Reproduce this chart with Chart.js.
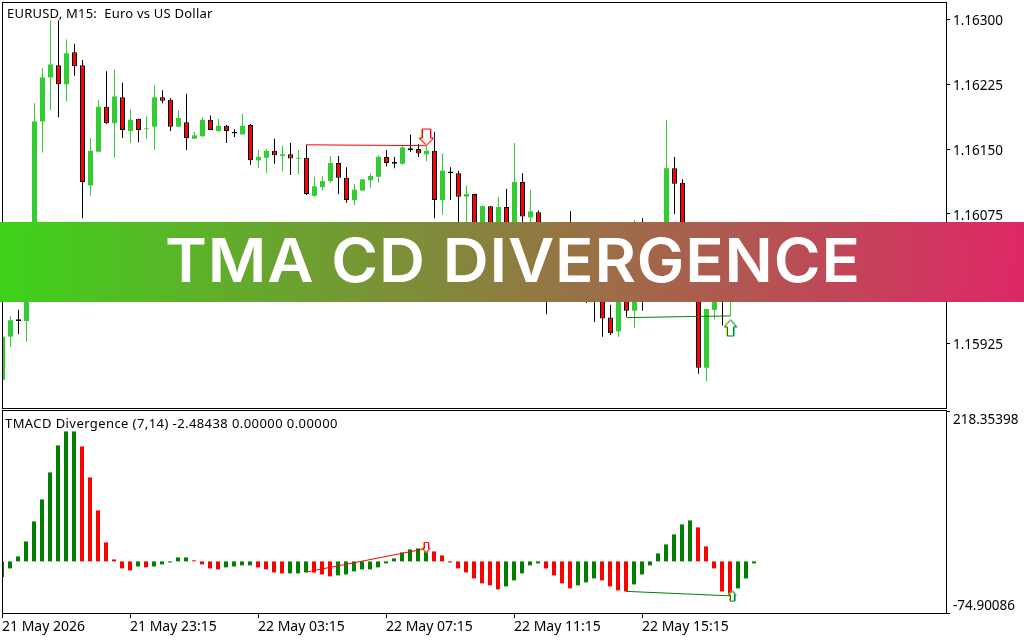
<!DOCTYPE html>
<html lang="en">
<head>
<meta charset="UTF-8">
<title>TMA CD Divergence</title>
<script src="https://cdn.jsdelivr.net/npm/chart.js"></script>
<style>
    html, body { margin: 0; padding: 0; background: #fff; overflow: hidden; }
    body { width: 1024px; height: 640px; position: relative; }
    canvas { position: absolute; left: 0; }
    #priceChart { top: 0; }
    #tmacdChart { top: 410px; }
    .label { position: absolute; font: 13px "Noto Sans", sans-serif; color: #000; white-space: pre; line-height: 16px; }
    #priceTitle { left: 7px; top: 5px; letter-spacing: 0.22px; }
    #tmacdTitle { left: 5px; top: 415px; letter-spacing: 0.42px; }
    #banner {
        position: absolute; left: 0; top: 222px; width: 1024px; height: 80px;
        background: linear-gradient(93deg, #3dd31a 0%, #de2766 100%);
    }
    #banner span {
        position: absolute; left: 164.5px; top: 0;
        font: 600 60px/76px Inter, sans-serif; color: #fff; white-space: pre; letter-spacing: 0.8px;
        transform: scaleX(1.06); transform-origin: left center;
    }
</style>
</head>
<body>
<canvas id="priceChart" width="1024" height="410"></canvas>
<canvas id="tmacdChart" width="1024" height="230"></canvas>
<div class="label" id="priceTitle">EURUSD, M15:  Euro vs US Dollar</div>
<div class="label" id="tmacdTitle">TMACD Divergence (7,14) -2.48438 0.00000 0.00000</div>
<div id="banner"><span>TMA CD DIVERGENCE</span></div>
<script>
// EURUSD M15 candles
const opens = [
    1.15883, 1.15933, 1.15953, 1.15951, 1.15993, 1.16182, 1.16233, 1.16247, 1.16225, 1.16262,
    1.16247, 1.16108, 1.16147, 1.16199, 1.16180, 1.16210, 1.16171, 1.16185, 1.16173, 1.16176,
    1.16210, 1.16207, 1.16176, 1.16181, 1.16162, 1.16165, 1.16184, 1.16171, 1.16177, 1.16170,
    1.16167, 1.16178, 1.16137, 1.16140, 1.16148, 1.16142, 1.16144, 1.16139, 1.16140, 1.16096,
    1.16106, 1.16113, 1.16134, 1.16117, 1.16091, 1.16102, 1.16114, 1.16118, 1.16141, 1.16135,
    1.16133, 1.16151, 1.16150, 1.16144, 1.16148, 1.16091, 1.16124, 1.16122, 1.16095, 1.16098,
    1.16045, 1.16084, 1.16039, 1.16083, 1.16039, 1.16112, 1.16071, 1.16077, 1.16051, 1.16010,
    1.16019, 1.16020, 1.15995, 1.16015, 1.15985, 1.15975, 1.15955, 1.15939, 1.15990, 1.15963,
    1.16010, 1.15995, 1.16020, 1.16050, 1.16128, 1.16111, 1.16022, 1.15995, 1.15897, 1.15964,
    1.15985, 1.15975, 1.15990, 1.16005, 1.16018
];
const highs = [
    1.15933, 1.15957, 1.15964, 1.15998, 1.16203, 1.16244, 1.16299, 1.16299, 1.16277, 1.16272,
    1.16253, 1.16163, 1.16207, 1.16240, 1.16242, 1.16227, 1.16196, 1.16185, 1.16188, 1.16224,
    1.16218, 1.16209, 1.16195, 1.16214, 1.16170, 1.16187, 1.16189, 1.16185, 1.16178, 1.16173,
    1.16191, 1.16179, 1.16149, 1.16150, 1.16162, 1.16154, 1.16157, 1.16149, 1.16155, 1.16118,
    1.16119, 1.16142, 1.16142, 1.16129, 1.16110, 1.16115, 1.16122, 1.16143, 1.16149, 1.16141,
    1.16154, 1.16167, 1.16156, 1.16154, 1.16170, 1.16145, 1.16129, 1.16125, 1.16108, 1.16098,
    1.16085, 1.16084, 1.16095, 1.16104, 1.16157, 1.16122, 1.16103, 1.16079, 1.16059, 1.16027,
    1.16027, 1.16078, 1.16025, 1.16025, 1.15995, 1.15990, 1.15970, 1.16000, 1.16000, 1.16068,
    1.16070, 1.16030, 1.16060, 1.16184, 1.16141, 1.16115, 1.16030, 1.16005, 1.15965, 1.15995,
    1.15995, 1.16000, 1.16012, 1.16030, 1.16025
];
const lows = [
    1.15883, 1.15921, 1.15936, 1.15927, 1.15985, 1.16146, 1.16195, 1.16187, 1.16205, 1.16235,
    1.16070, 1.16096, 1.16147, 1.16179, 1.16140, 1.16163, 1.16157, 1.16158, 1.16162, 1.16149,
    1.16203, 1.16171, 1.16176, 1.16149, 1.16162, 1.16164, 1.16172, 1.16170, 1.16157, 1.16164,
    1.16167, 1.16132, 1.16128, 1.16122, 1.16133, 1.16124, 1.16120, 1.16121, 1.16097, 1.16095,
    1.16102, 1.16111, 1.16098, 1.16088, 1.16085, 1.16102, 1.16105, 1.16111, 1.16130, 1.16128,
    1.16132, 1.16147, 1.16141, 1.16136, 1.16070, 1.16074, 1.16091, 1.16045, 1.16050, 1.16045,
    1.16040, 1.16028, 1.16035, 1.16030, 1.16032, 1.16056, 1.16056, 1.16039, 1.15959, 1.15998,
    1.15993, 1.15985, 1.15990, 1.15972, 1.15950, 1.15933, 1.15935, 1.15933, 1.15956, 1.15943,
    1.15963, 1.15985, 1.16010, 1.16040, 1.16075, 1.16015, 1.15985, 1.15890, 1.15881, 1.15953,
    1.15946, 1.15957, 1.15985, 1.16000, 1.16000
];
const closes = [
    1.15933, 1.15952, 1.15951, 1.15993, 1.16182, 1.16233, 1.16248, 1.16225, 1.16261, 1.16246,
    1.16112, 1.16148, 1.16199, 1.16180, 1.16211, 1.16172, 1.16184, 1.16172, 1.16174, 1.16210,
    1.16206, 1.16176, 1.16186, 1.16163, 1.16166, 1.16184, 1.16172, 1.16177, 1.16171, 1.16168,
    1.16177, 1.16137, 1.16141, 1.16148, 1.16143, 1.16144, 1.16139, 1.16140, 1.16098, 1.16107,
    1.16113, 1.16134, 1.16117, 1.16091, 1.16103, 1.16115, 1.16119, 1.16141, 1.16134, 1.16133,
    1.16152, 1.16149, 1.16145, 1.16148, 1.16091, 1.16125, 1.16122, 1.16095, 1.16098, 1.16051,
    1.16084, 1.16033, 1.16083, 1.16039, 1.16112, 1.16072, 1.16078, 1.16051, 1.16010, 1.16019,
    1.16008, 1.15995, 1.16015, 1.15985, 1.15975, 1.15954, 1.15937, 1.15990, 1.15963, 1.16010,
    1.15995, 1.16020, 1.16050, 1.16128, 1.16110, 1.16022, 1.15995, 1.15897, 1.15965, 1.15985,
    1.15975, 1.15990, 1.16005, 1.16020, 1.16010
];
// TMACD histogram, same bars as the candles
const tmacd = [
    -22.8, -10.2, 7.3, 29.0, 58.1, 90.0, 129.2, 168.4, 188.7, 188.7,
    166.9, 121.9, 74.0, 27.6, 2.9, -10.2, -13.1, -7.3, -8.7, -7.3,
    -4.4, -1.5, 5.8, 5.8, 1.5, -4.4, -10.2, -11.6, -8.7, -7.3,
    -5.8, -5.8, -8.7, -11.6, -16.0, -17.4, -17.4, -17.4, -16.0, -16.2,
    -18.9, -21.8, -20.3, -18.9, -14.5, -11.6, -11.6, -8.7, -2.9, 4.4,
    13.1, 17.4, 18.9, 18.9, 14.5, 8.7, -1.5, -10.2, -16.0, -24.7,
    -31.9, -34.8, -40.6, -36.3, -27.6, -17.4, -5.8, -2.9, -10.2, -20.3,
    -31.9, -39.2, -34.8, -30.5, -24.7, -27.6, -36.3, -42.1, -43.6, -33.4,
    -18.9, -5.8, 11.6, 24.7, 39.2, 53.7, 59.5, 49.4, 21.8, -10.2,
    -43.6, -49.4, -39.2, -24.7, -2.9
];

const priceTicks = [1.16300, 1.16225, 1.16150, 1.16075, 1.16000, 1.15925];
const tmacdTicks = [218.35398, -74.90086];
const timeTickBars = [0, 16, 32, 48, 64, 80];
const timeTickLabels = ['21 May 2026', '21 May 23:15', '22 May 03:15', '22 May 07:15', '22 May 11:15', '22 May 15:15'];

// divergence lines: [bar, value]
const bearPriceLine = [[38, 1.16155], [53, 1.16154]];
const bullPriceLine = [[78, 1.15955], [91, 1.15957]];
const bearTmacdLine = [[38, -15.5], [53, 18.5]];
const bullTmacdLine = [[78, -43.5], [91, -50.0]];
// signal arrows: [bar, value]
const sellPriceArrow = [[53, 1.16164]];
const buyPriceArrow = [[91, 1.15943]];
const sellTmacdArrow = [[53, 20.3]];
const buyTmacdArrow = [[91.25, -50.4]];

const LIME = '#32cd32', RED = '#ff0000', DARKGREEN = '#008000', FONT = '"Noto Sans", sans-serif';
const bars = opens.map((_, i) => i);
const isUp = i => closes[i] >= opens[i];
const toXY = pts => pts.map(p => ({ x: p[0], y: p[1] }));

// little outlined arrow, drawn once and used as a point style
function arrowSprite(w, h, down, stroke, left, right) {
    const c = document.createElement('canvas');
    c.width = w + 3; c.height = h + 3;
    const g = c.getContext('2d');
    const sw = Math.round(w * 0.28), hh = Math.round(h * 0.42), m = Math.round(w / 2);
    let pts = [[m - sw, 0], [m + sw, 0], [m + sw, h - hh], [w, h - hh], [m, h], [0, h - hh], [m - sw, h - hh]];
    if (!down) pts = pts.map(p => [p[0], h - p[1]]);
    const trace = (dx) => {
        g.beginPath();
        pts.forEach((p, i) => i ? g.lineTo(p[0] + 1.5 + dx, p[1] + 1.5) : g.moveTo(p[0] + 1.5 + dx, p[1] + 1.5));
        g.closePath();
    };
    g.lineWidth = 1;
    g.strokeStyle = left; trace(-1); g.stroke();
    g.strokeStyle = right; trace(1); g.stroke();
    g.fillStyle = '#fff'; trace(0); g.fill();
    g.strokeStyle = stroke; trace(0); g.stroke();
    return c;
}

// frame round the plot
const framePlugin = {
    id: 'frame',
    afterDraw(chart) {
        const { ctx, chartArea: a } = chart;
        ctx.save();
        ctx.strokeStyle = '#000';
        ctx.lineWidth = 1;
        ctx.strokeRect(a.left - 0.5, a.top - 0.5, a.right - a.left + 1, a.bottom - a.top + 1);
        ctx.restore();
    }
};

function lineSet(pts, color, order) {
    return { type: 'line', data: toXY(pts), borderColor: color, borderWidth: 1, pointRadius: 0, order };
}
function arrowSet(pts, sprite) {
    return { type: 'line', data: toXY(pts), showLine: false, pointStyle: sprite, pointRadius: 6, order: 0 };
}

// the plot box is fixed, labels may not push it around
function noPadding(s) {
    s.paddingLeft = s.paddingRight = s.paddingTop = s.paddingBottom = 0;
}

const yAxisBase = {
    position: 'right',
    grid: { drawOnChartArea: false, tickLength: 4, tickColor: '#000' },
    border: { display: false },
    afterFit: s => { s.width = 78; noPadding(s); }
};

new Chart(document.getElementById('priceChart'), {
    data: {
        datasets: [
            {
                type: 'bar', label: 'wick',
                data: bars.map(i => ({ x: i, y: [lows[i], highs[i]] })),
                backgroundColor: bars.map(i => isUp(i) ? LIME : '#000'),
                barThickness: 1, inflateAmount: 0, grouped: false, order: 3
            },
            {
                type: 'bar', label: 'body',
                data: bars.map(i => ({ x: i, y: [opens[i], closes[i]] })),
                backgroundColor: bars.map(i => isUp(i) ? LIME : RED),
                borderColor: '#000',
                borderWidth: bars.map(i => isUp(i) ? 0 : 1),
                borderSkipped: false,
                barThickness: 5, inflateAmount: 0, grouped: false, order: 2
            },
            lineSet(bearPriceLine, RED, 1),
            lineSet(bullPriceLine, DARKGREEN, 1),
            arrowSet(sellPriceArrow, arrowSprite(14, 16, true, RED, '#ff9a30', '#ff9ad0')),
            arrowSet(buyPriceArrow, arrowSprite(12, 16, false, DARKGREEN, '#e8e040', '#40d8e0'))
        ]
    },
    options: {
        responsive: false, animation: false,
        layout: { autoPadding: false, padding: { left: 3, top: 3, bottom: 2, right: 0 } },
        plugins: { legend: { display: false }, tooltip: { enabled: false } },
        scales: {
            x: { type: 'linear', display: false, offset: false, min: 0.0625, max: 117.9375 },
            y: {
                ...yAxisBase,
                min: 1.158504, max: 1.163191,
                afterBuildTicks: s => { s.ticks = priceTicks.map(v => ({ value: v })); },
                ticks: { color: '#000', padding: 3, labelOffset: 2, autoSkip: false, font: { family: FONT, size: 13.5 }, callback: v => v.toFixed(5) }
            }
        }
    },
    plugins: [framePlugin]
});

new Chart(document.getElementById('tmacdChart'), {
    data: {
        datasets: [
            {
                type: 'bar', label: 'TMACD',
                data: bars.map(i => ({ x: i, y: tmacd[i] })),
                backgroundColor: tmacd.map((v, i) => i === 0 || v >= tmacd[i - 1] ? DARKGREEN : RED),
                barThickness: 4, inflateAmount: 0, grouped: false, order: 2
            },
            lineSet(bearTmacdLine, RED, 1),
            lineSet(bullTmacdLine, DARKGREEN, 1),
            arrowSet(sellTmacdArrow, arrowSprite(7, 10, true, RED, '#ff9a30', '#ff9ad0')),
            arrowSet(buyTmacdArrow, arrowSprite(7, 10, false, DARKGREEN, '#e8c040', '#40c8d0'))
        ]
    },
    options: {
        responsive: false, animation: false,
        layout: { autoPadding: false, padding: { left: 3, top: 1, bottom: 0, right: 0 } },
        plugins: { legend: { display: false }, tooltip: { enabled: false } },
        scales: {
            x: {
                type: 'linear', offset: false, min: 0.125, max: 118,
                grid: { offset: false, drawOnChartArea: false, tickLength: 5, tickColor: '#000' },
                border: { display: false },
                afterBuildTicks: s => { s.ticks = timeTickBars.map(v => ({ value: v })); },
                afterFit: s => { s.height = 27; noPadding(s); },
                ticks: {
                    color: '#000', padding: 1, autoSkip: false, maxRotation: 0, minRotation: 0, align: 'start',
                    font: { family: FONT, size: 14 },
                    callback: v => timeTickLabels[timeTickBars.indexOf(v)]
                }
            },
            y: {
                ...yAxisBase,
                min: -74.90086, max: 218.35398,
                afterBuildTicks: s => { s.ticks = tmacdTicks.map(v => ({ value: v })); },
                ticks: {
                    color: '#000', padding: 3, labelOffset: 1, autoSkip: false, font: { family: FONT, size: 13.5, lineHeight: 1.22 },
                    // first label hangs below its tick, last one sits above it
                    callback: v => v > 0 ? ['', v.toFixed(5)] : [v.toFixed(5), '']
                }
            }
        }
    },
    plugins: [framePlugin]
});
</script>
</body>
</html>
